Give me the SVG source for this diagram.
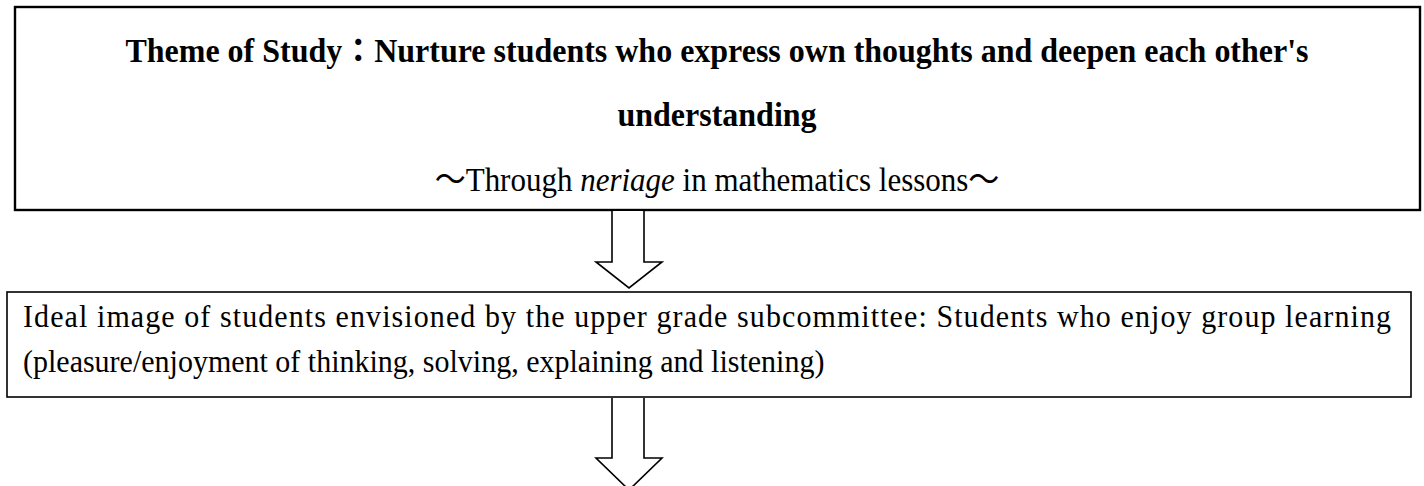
<svg xmlns="http://www.w3.org/2000/svg" width="1424" height="486" viewBox="0 0 1424 486">
<style>
.box{fill:#fff;stroke:#000}
.t{font-family:"Liberation Serif","Times New Roman","Noto Sans CJK JP",serif;fill:#000}
.b{font-weight:bold}
.cjk{font-family:"Noto Sans CJK JP",sans-serif}
.arrow{fill:#fff;stroke:#000;stroke-width:1.6;stroke-linejoin:miter}
</style>
<rect width="1424" height="486" fill="#fff"/>
<g id="theme">
<rect class="box" x="15" y="7" width="1405" height="203" stroke-width="2.4"/>
<text class="t b" transform="translate(717,62) scale(1,1.04)" font-size="32" text-anchor="middle">Theme of Study：Nurture students who express own thoughts and deepen each other's</text>
<text class="t b" transform="translate(717,126) scale(1,1.04)" font-size="32" text-anchor="middle">understanding</text>
<text class="t" transform="translate(717,191) scale(1,1.08)" font-size="31" text-anchor="middle"><tspan class="cjk">～</tspan>Through <tspan font-style="italic">neriage</tspan> in mathematics lessons<tspan class="cjk">～</tspan></text>
</g>
<g id="ideal">
<rect class="box" x="7" y="292" width="1404" height="105" stroke-width="1.6"/>
<text class="t" transform="translate(23,327) scale(1,1.08)" font-size="30" textLength="1368" lengthAdjust="spacing">Ideal image of students envisioned by the upper grade subcommittee: Students who enjoy group learning</text>
<text class="t" transform="translate(23,372) scale(1,1.08)" font-size="30">(pleasure/enjoyment of thinking, solving, explaining and listening)</text>
</g>
<g id="connectors">
<polyline class="arrow" points="612,211 612,262 596,262 629,288 662,262 644,262 644,211"/>
<polyline class="arrow" points="612,398 612,458 596,458 629,490 662,458 644,458 644,398"/>
</g>
</svg>
